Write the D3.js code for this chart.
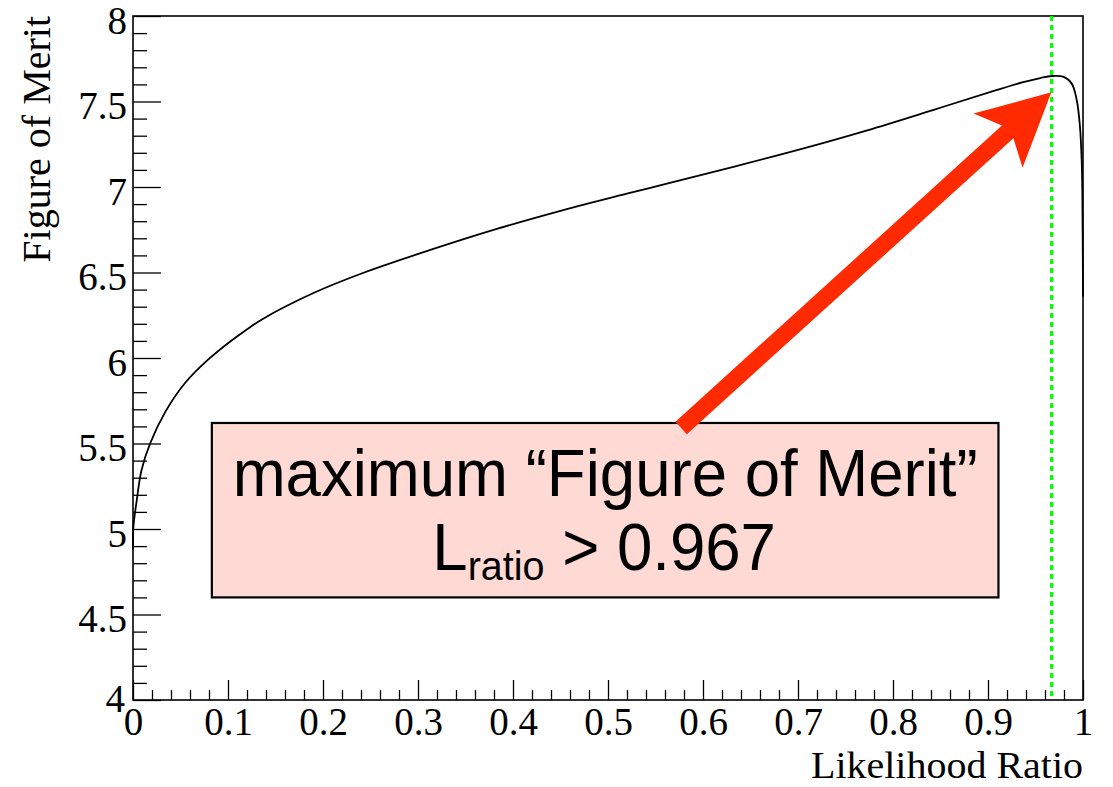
<!DOCTYPE html>
<html>
<head>
<meta charset="utf-8">
<script src="https://cdn.jsdelivr.net/npm/d3@7"></script>
<style>
  html, body { margin: 0; padding: 0; background: #fff; }
  svg { display: block; }
</style>
</head>
<body>
<svg id="chart" width="1113" height="787"></svg>
<script>
// Figure of Merit as a function of the likelihood-ratio cut
const cutValues = [0, 0.0004, 0.004, 0.009, 0.018, 0.034, 0.055, 0.079, 0.102, 0.118,
  0.137, 0.190, 0.242, 0.313, 0.383, 0.453, 0.523, 0.562, 0.632, 0.702, 0.772,
  0.842, 0.902, 0.937, 0.955, 0.967, 0.979, 0.988, 0.9934, 0.9968, 0.9986, 0.9993, 1.0];
const meritValues = [4.88, 5.01, 5.17, 5.345, 5.50, 5.685, 5.855, 5.99, 6.095, 6.16,
  6.23, 6.38, 6.497, 6.632, 6.755, 6.865, 6.965, 7.02, 7.118, 7.22, 7.33,
  7.45, 7.555, 7.613, 7.637, 7.649, 7.645, 7.606, 7.509, 7.353, 7.158, 6.963, 6.36];

// axis ticks
const xMajorTicks = [0, 0.1, 0.2, 0.3, 0.4, 0.5, 0.6, 0.7, 0.8, 0.9, 1];
const xTickLabels = ["0", "0.1", "0.2", "0.3", "0.4", "0.5", "0.6", "0.7", "0.8", "0.9", "1"];
const yMajorTicks = [4, 4.5, 5, 5.5, 6, 6.5, 7, 7.5, 8];
const yTickLabels = ["4", "4.5", "5", "5.5", "6", "6.5", "7", "7.5", "8"];

// optimal cut and annotation
const bestCut = [0.967];
const arrowTail = [0.577, 5.591];
const arrowTip = [0.9667, 7.554];
const noteBox = [0.083, 5.62, 0.911, 4.60];   // x0, yTop, x1, yBottom
const noteLine1 = "maximum \u201CFigure of Merit\u201D";
const noteMain = "L", noteSub = "ratio", noteRest = " > 0.967";

const svg = d3.select("#chart");
const m = { left: 133, right: 1083, top: 16, bottom: 700 };

const x = d3.scaleLinear().domain([0, 1]).range([m.left, m.right]);
const y = d3.scaleLinear().domain([4, 8]).range([m.bottom, m.top]);

const serif = "'Liberation Serif', 'Times New Roman', Times, serif";
const sans = "'Liberation Sans', Arial, Helvetica, sans-serif";

// minor ticks
const xMinor = d3.range(0, 1.0001, 0.02).filter(v => Math.abs(v * 10 - Math.round(v * 10)) > 1e-6);
const yMinor = d3.range(4, 8.0001, 0.1).filter(v => Math.abs(v * 2 - Math.round(v * 2)) > 1e-6);

svg.append("g")
  .attr("transform", `translate(0,${m.bottom})`)
  .call(d3.axisBottom(x).tickValues(xMinor).tickSize(-10).tickFormat(""))
  .call(g => g.select(".domain").remove())
  .call(g => g.selectAll("line").attr("stroke", "#000").attr("stroke-width", 1.3));

svg.append("g")
  .attr("transform", `translate(${m.left},0)`)
  .call(d3.axisLeft(y).tickValues(yMinor).tickSize(-14).tickFormat(""))
  .call(g => g.select(".domain").remove())
  .call(g => g.selectAll("line").attr("stroke", "#000").attr("stroke-width", 1.3));

// major ticks with labels
svg.append("g")
  .attr("transform", `translate(0,${m.bottom})`)
  .call(d3.axisBottom(x).tickValues(xMajorTicks).tickSize(-20).tickPadding(7)
    .tickFormat((d, i) => xTickLabels[i]))
  .call(g => g.select(".domain").remove())
  .call(g => g.selectAll("line").attr("stroke", "#000").attr("stroke-width", 1.3))
  .call(g => g.selectAll("text").attr("font-family", serif).attr("font-size", 39).attr("fill", "#000"));

svg.append("g")
  .attr("transform", `translate(${m.left},0)`)
  .call(d3.axisLeft(y).tickValues(yMajorTicks).tickSize(-28).tickPadding(6)
    .tickFormat((d, i) => yTickLabels[i]))
  .call(g => g.select(".domain").remove())
  .call(g => g.selectAll("line").attr("stroke", "#000").attr("stroke-width", 1.3))
  .call(g => g.selectAll("text").attr("font-family", serif).attr("font-size", 39)
    .attr("fill", "#000").attr("dy", d => d === 4 ? "0.3em" : "0.44em")
    .attr("x", d => d === 4 ? -8 : -6));

// frame
svg.append("rect")
  .attr("x", x(0)).attr("y", y(8))
  .attr("width", x(1) - x(0)).attr("height", y(4) - y(8))
  .attr("fill", "none").attr("stroke", "#000").attr("stroke-width", 1.6);

// curve
const pts = cutValues.map((c, i) => [c, meritValues[i]]);
svg.append("path")
  .datum(pts)
  .attr("fill", "none")
  .attr("stroke", "#000")
  .attr("stroke-width", 1.8)
  .attr("d", d3.line().x(d => x(d[0])).y(d => y(d[1])).curve(d3.curveCatmullRom.alpha(0.5)));

// optimal cut marker
svg.selectAll(".cut").data(bestCut).enter().append("line")
  .attr("x1", d => x(d)).attr("x2", d => x(d))
  .attr("y1", y(8)).attr("y2", y(4))
  .attr("stroke", "#00ff00").attr("stroke-width", 3.2)
  .attr("stroke-dasharray", "5,4");

// annotation box
const bx0 = x(noteBox[0]), by0 = y(noteBox[1]), bx1 = x(noteBox[2]), by1 = y(noteBox[3]);
svg.append("rect")
  .attr("x", bx0).attr("y", by0).attr("width", bx1 - bx0).attr("height", by1 - by0)
  .attr("fill", "#ffd9d4").attr("stroke", "#000").attr("stroke-width", 2.2);

const cx = (bx0 + bx1) / 2;
svg.append("g")
  .attr("transform", `translate(${cx},${by0 + 73}) scale(0.963,1)`)
  .append("text")
  .attr("text-anchor", "middle")
  .attr("font-family", sans).attr("font-size", 66).attr("fill", "#000")
  .text(noteLine1);

const l2 = svg.append("g")
  .attr("transform", `translate(${cx - 1},${by0 + 147}) scale(0.963,1)`)
  .append("text")
  .attr("text-anchor", "middle")
  .attr("font-family", sans).attr("font-size", 66).attr("fill", "#000");
l2.append("tspan").text(noteMain);
l2.append("tspan").attr("font-size", 41).attr("dy", 10).text(noteSub);
l2.append("tspan").attr("dy", -10).text(noteRest);

// arrow pointing at the maximum
(function drawArrow() {
  const tx = x(arrowTail[0]), ty = y(arrowTail[1]);
  const px = x(arrowTip[0]), py = y(arrowTip[1]);
  const len = Math.hypot(px - tx, py - ty);
  const ux = (px - tx) / len, uy = (py - ty) / len;
  const nx = -uy, ny = ux;
  const headLen = 72, headHalf = 36.5, notch = 59, shaftHalf = 8.5;
  const P = (a, b) => [px + ux * a + nx * b, py + uy * a + ny * b];
  const poly = [
    P(0, 0),
    P(-headLen, headHalf),
    P(-notch, shaftHalf),
    P(-len, shaftHalf),
    P(-len, -shaftHalf),
    P(-notch, -shaftHalf),
    P(-headLen, -headHalf)
  ];
  svg.append("path")
    .attr("d", "M" + poly.map(p => p.join(",")).join("L") + "Z")
    .attr("fill", "#ff2a00");
})();

// axis titles
svg.append("text")
  .attr("x", m.right).attr("y", 778)
  .attr("text-anchor", "end")
  .attr("font-family", serif).attr("font-size", 38).attr("fill", "#000")
  .attr("textLength", 272).attr("lengthAdjust", "spacingAndGlyphs")
  .text("Likelihood Ratio");

svg.append("text")
  .attr("transform", `translate(50,${m.top}) rotate(-90)`)
  .attr("text-anchor", "end")
  .attr("font-family", serif).attr("font-size", 40).attr("fill", "#000")
  .text("Figure of Merit");
</script>
</body>
</html>
